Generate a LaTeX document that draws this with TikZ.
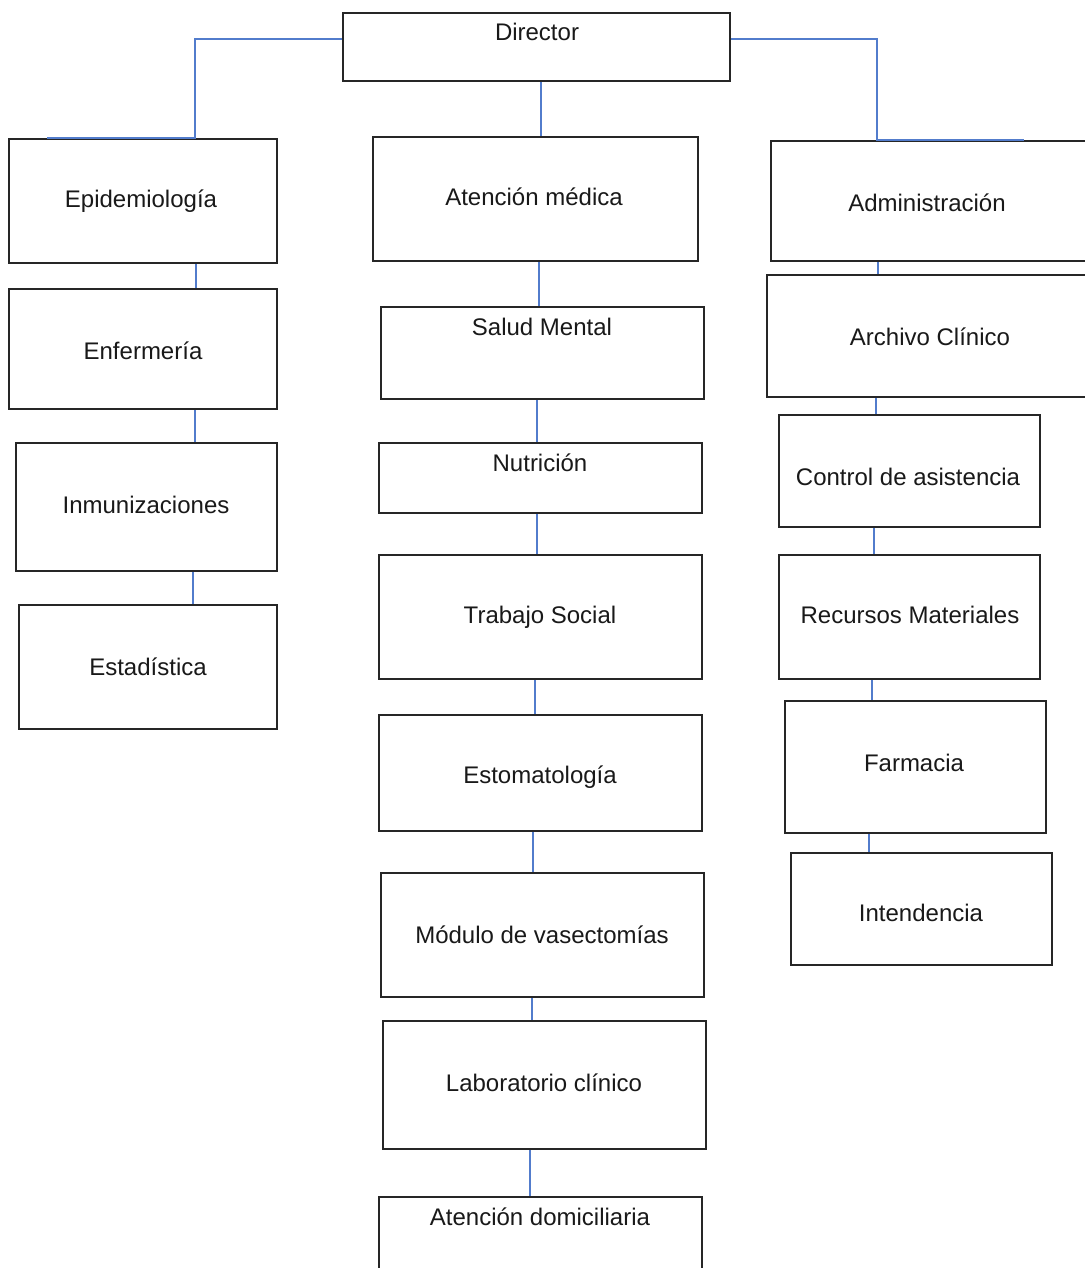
\documentclass[tikz,border=0pt]{standalone}
\usepackage{fontspec}
\setmainfont{Liberation Sans}
\definecolor{connblue}{RGB}{82,124,204}
\tikzset{
  box/.style={draw=black!85, line width=1pt, fill=white, inner sep=0pt},
  lbl/.style={font=\fontsize{12}{14}\selectfont, inner sep=0pt, text=black!90},
  conn/.style={draw=connblue, line width=1pt}
}
% \bx{name}{x1}{y1}{x2}{y2}{text x}{text y}{text}
\newcommand{\bx}[8]{%
  \node[box, minimum width={(#4-#2)*0.5pt}, minimum height={(#5-#3)*0.5pt}] (#1) at ({(#2+#4)/2},{(#3+#5)/2}) {};
  \node[lbl] (#1t) at (#6,#7) {#8};
}
\begin{document}
\begin{tikzpicture}[x=0.5pt,y=-0.5pt]
\useasboundingbox (0,0) rectangle (1084,1268);
\fill[white] (0,0) rectangle (1084,1268);
% top
\bx{dir}{343}{13}{730}{81}{537}{32}{Director}
% left column
\bx{epi}{9}{139}{277}{263}{141}{201}{Epidemiología}
\bx{enf}{9}{289}{277}{409}{143}{351}{Enfermería}
\bx{inm}{16}{443}{277}{571}{146}{505}{Inmunizaciones}
\bx{est}{19}{605}{277}{729}{148}{667}{Estadística}
% middle column
\bx{ate}{373}{137}{698}{261}{534}{197}{Atención médica}
\bx{sal}{381}{307}{704}{399}{542}{327}{Salud Mental}
\bx{nut}{379}{443}{702}{513}{540}{463}{Nutrición}
\bx{tra}{379}{555}{702}{679}{540}{617}{Trabajo Social}
\bx{sto}{379}{715}{702}{831}{540}{777}{Estomatología}
\bx{mod}{381}{873}{704}{997}{542}{935}{Módulo de vasectomías}
\bx{lab}{383}{1021}{706}{1149}{544}{1083}{Laboratorio clínico}
\bx{dom}{379}{1197}{702}{1300}{540}{1217}{Atención domiciliaria}
% right column
\bx{adm}{771}{141}{1092}{261}{927}{203}{Administración}
\bx{arc}{767}{275}{1092}{397}{930}{337}{Archivo Clínico}
\bx{con}{779}{415}{1040}{527}{908}{477}{Control de asistencia}
\bx{rec}{779}{555}{1040}{679}{910}{615}{Recursos Materiales}
\bx{far}{785}{701}{1046}{833}{914}{763}{Farmacia}
\bx{int}{791}{853}{1052}{965}{921}{913}{Intendencia}
% connectors
\draw[conn] (dir.west |- 0,39) -| (epi.north -| 195,0) -- (epi.north -| 47,0);
\draw[conn] (dir.east |- 0,39) -| (adm.north -| 877,0) -- (adm.north -| 1024,0);
\draw[conn] (dir.south -| 541,0) -- (ate.north -| 541,0);
\draw[conn] (ate.south -| 539,0) -- (sal.north -| 539,0);
\draw[conn] (sal.south -| 537,0) -- (nut.north -| 537,0);
\draw[conn] (nut.south -| 537,0) -- (tra.north -| 537,0);
\draw[conn] (tra.south -| 535,0) -- (sto.north -| 535,0);
\draw[conn] (sto.south -| 533,0) -- (mod.north -| 533,0);
\draw[conn] (mod.south -| 532,0) -- (lab.north -| 532,0);
\draw[conn] (lab.south -| 530,0) -- (dom.north -| 530,0);
\draw[conn] (epi.south -| 196,0) -- (enf.north -| 196,0);
\draw[conn] (enf.south -| 195,0) -- (inm.north -| 195,0);
\draw[conn] (inm.south -| 193,0) -- (est.north -| 193,0);
\draw[conn] (adm.south -| 878,0) -- (arc.north -| 878,0);
\draw[conn] (arc.south -| 876,0) -- (con.north -| 876,0);
\draw[conn] (con.south -| 874,0) -- (rec.north -| 874,0);
\draw[conn] (rec.south -| 872,0) -- (far.north -| 872,0);
\draw[conn] (far.south -| 869,0) -- (int.north -| 869,0);
\end{tikzpicture}
\end{document}
